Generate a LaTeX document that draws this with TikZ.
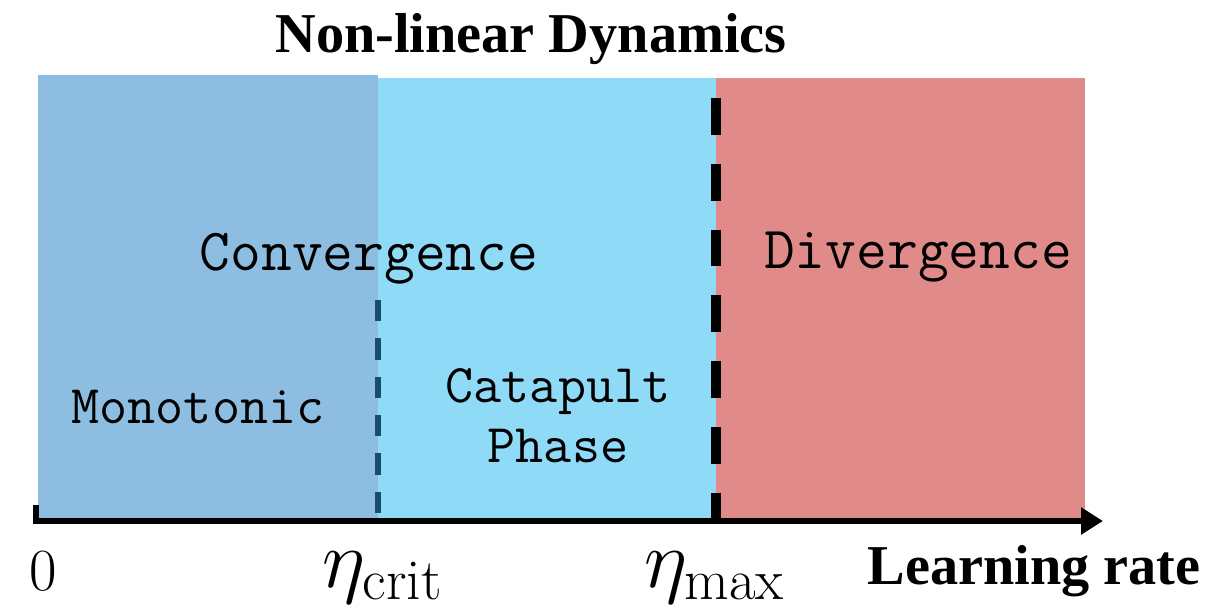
\documentclass[tikz,border=0pt]{standalone}
\usepackage{fix-cm}
\usepackage{fontspec}
\newfontfamily\timesfont{Liberation Serif}
\usetikzlibrary{arrows.meta}
\definecolor{monoblue}{RGB}{141,190,226}
\definecolor{catablue}{RGB}{143,218,246}
\definecolor{divred}{RGB}{224,138,138}
\definecolor{critteal}{RGB}{22,78,108}

\begin{document}
\begin{tikzpicture}[x=0.01cm, y=-0.01cm,
    region/.style={font=\ttfamily\fontsize{17}{19}\selectfont},
    phase/.style={font=\ttfamily\fontsize{15.5}{17}\selectfont},
    heading/.style={font=\timesfont\bfseries\fontsize{16}{19}\selectfont},
    rate/.style={font=\fontsize{23.5}{27}\selectfont}]
    \useasboundingbox (0,0) rectangle (1210,609);
    % the three regions
    \fill[monoblue] (38,75) rectangle (378,518);
    \fill[catablue] (378,78) rectangle (716,518);
    \fill[divred] (716,78) rectangle (1085,518);
    % boundaries
    \draw[critteal, line width=1.7pt, dash pattern=on 6.1pt off 4.8pt] (378,300) -- (378,518);
    \draw[black, line width=2.6pt, dash pattern=on 10.5pt off 8.2pt] (716,98) -- (716,518);
    % axis
    \draw[line width=1.7pt, -{Triangle[length=0.22cm, width=0.26cm]}] (36,505) -- (36,521) -- (1103,521);
    \node[heading, anchor=base] (title) at (531,52) {Non-linear Dynamics};
    \node[region, anchor=base] (conv) at (369,270) {Convergence};
    \node[region, anchor=base] (div) at (918,268) {Divergence};
    \node[phase, anchor=base] (mono) at (198,423) {Monotonic};
    \node[phase, anchor=base] (cata) at (558,402) {Catapult};
    \node[phase, anchor=base] (phs) at (558,462) {Phase};
    \node[font=\fontsize{17}{20}\selectfont, anchor=base] (zero) at (43,590) {0};
    \node[rate, anchor=base] (crit) at (383,587) {$\eta_{\mathrm{crit}}$};
    \node[rate, anchor=base] (max) at (715,587) {$\eta_{\max}$};
    \node[heading, anchor=base] (lr) at (1034,584) {Learning rate};
\end{tikzpicture}
\end{document}
